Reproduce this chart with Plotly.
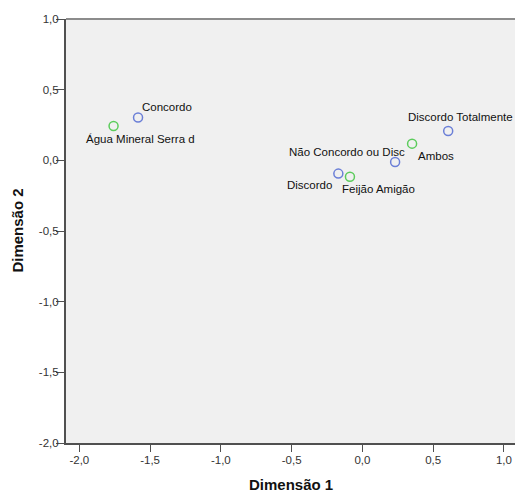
import plotly.graph_objects as go

# Row points (blue)
row_labels = ["Concordo", "Discordo Totalmente", "Não Concordo ou Disc", "Discordo"]
row_x = [-1.585, 0.606, 0.231, -0.170]
row_y = [0.303, 0.208, -0.012, -0.094]

# Column points (green)
col_labels = ["Água Mineral Serra d", "Ambos", "Feijão Amigão"]
col_x = [-1.758, 0.351, -0.088]
col_y = [0.243, 0.118, -0.116]

x_ticks = [-2.0, -1.5, -1.0, -0.5, 0.0, 0.5, 1.0]
y_ticks = [-2.0, -1.5, -1.0, -0.5, 0.0, 0.5, 1.0]
x_ticktext = [f"{v:.1f}".replace(".", ",") for v in x_ticks]
y_ticktext = [f"{v:.1f}".replace(".", ",") for v in y_ticks]

# label placement styles: (xanchor, xshift, yshift)
row_label_pos = [("left", 2, 11), ("left", -42, 14), ("right", 12, 10), ("right", -4, -11)]
col_label_pos = [("left", -30, -13), ("left", 4, -12), ("left", -10, -12)]

FONT = "Liberation Sans, Arial, sans-serif"

fig = go.Figure()
fig.add_trace(go.Scatter(
    x=row_x, y=row_y, mode="markers",
    marker=dict(symbol="circle-open", size=9, color="#6b7fd7", line=dict(width=1.5)),
    showlegend=False, hoverinfo="skip"))
fig.add_trace(go.Scatter(
    x=col_x, y=col_y, mode="markers",
    marker=dict(symbol="circle-open", size=9, color="#5ccc5c", line=dict(width=1.5)),
    showlegend=False, hoverinfo="skip"))

annotations = []
for lab, x, y, (xa, xs, ys) in zip(row_labels, row_x, row_y, row_label_pos):
    annotations.append(dict(x=x, y=y, xref="x", yref="y", text=lab, showarrow=False,
                            xanchor=xa, yanchor="middle", xshift=xs, yshift=ys,
                            font=dict(family=FONT, size=11.5, color="#111")))
for lab, x, y, (xa, xs, ys) in zip(col_labels, col_x, col_y, col_label_pos):
    annotations.append(dict(x=x, y=y, xref="x", yref="y", text=lab, showarrow=False,
                            xanchor=xa, yanchor="middle", xshift=xs, yshift=ys,
                            font=dict(family=FONT, size=11.5, color="#111")))

# axis titles
annotations.append(dict(x=0.5, y=-0.099, xref="paper", yref="paper", text="<b>Dimensão 1</b>",
                        showarrow=False, xanchor="center", yanchor="middle",
                        font=dict(family=FONT, size=15, color="#111")))
annotations.append(dict(x=-0.11, y=0.5, xref="paper", yref="paper", text="<b>Dimensão 2</b>",
                        showarrow=False, xanchor="center", yanchor="middle", textangle=-90,
                        font=dict(family=FONT, size=15, color="#111")))

fig.update_layout(
    width=515, height=494,
    margin=dict(l=66, r=0, t=19, b=51, autoexpand=False),
    paper_bgcolor="white", plot_bgcolor="#f0f0f0",
    font=dict(family=FONT, size=12, color="#222"),
    annotations=annotations,
    shapes=[dict(type="line", xref="paper", yref="paper", x0=0, x1=1, y0=1, y1=1,
                 line=dict(color="#8c8c8c", width=2))],
    xaxis=dict(range=[-2.094, 1.078], tickvals=x_ticks, ticktext=x_ticktext, automargin=False,
               showgrid=False, zeroline=False, showline=True, linecolor="#505050", linewidth=2,
               ticks="outside", ticklen=7, tickcolor="#505050", tickwidth=1,
               ticklabelstandoff=-2,
               tickfont=dict(size=11.5, color="#333")),
    yaxis=dict(range=[-2.0, 1.0], tickvals=y_ticks, ticktext=y_ticktext, automargin=False,
               showgrid=False, zeroline=False, showline=True, linecolor="#505050", linewidth=2,
               ticks="outside", ticklen=8, tickcolor="#505050", tickwidth=1,
               ticklabelstandoff=-5,
               tickfont=dict(size=11.5, color="#333")),
)

fig.write_html("out.html", config={"displayModeBar": False},
               post_script="document.body.style.margin='0';document.body.style.overflow='hidden';")
